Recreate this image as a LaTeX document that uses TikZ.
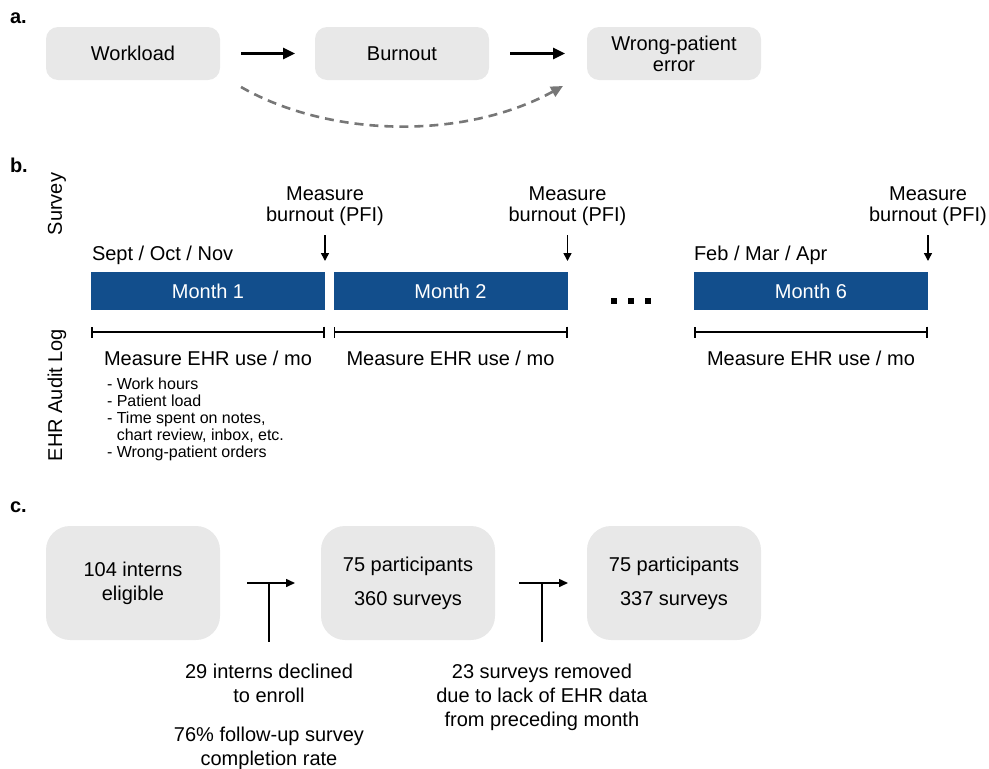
\documentclass[tikz,border=0pt]{standalone}
\usepackage{fontspec}
\setmainfont{Liberation Sans}
\usetikzlibrary{arrows.meta,calc}
\definecolor{boxgray}{HTML}{E8E8E8}
\definecolor{monthblue}{HTML}{124E8C}
\definecolor{dashgray}{HTML}{777777}
\begin{document}
\begin{tikzpicture}[x=1pt,y=-1pt,
  every node/.style={inner sep=0pt, outer sep=0pt},
  panellbl/.style={font=\fontsize{20}{24}\selectfont\bfseries, anchor=base west},
  abox/.style={rectangle, rounded corners=12pt, fill=boxgray, minimum width=174pt, minimum height=53pt,
     font=\fontsize{20}{21}\selectfont, align=center},
  cbox/.style={rectangle, rounded corners=24pt, fill=boxgray, minimum width=174pt, minimum height=114pt,
     align=center},
  monthbar/.style={rectangle, fill=monthblue, minimum width=234pt, minimum height=38pt,
     text=white, font=\fontsize{20}{22}\selectfont},
  txt/.style={font=\fontsize{20}{21}\selectfont, align=center},
  sidelbl/.style={font=\fontsize{20}{22}\selectfont, rotate=90},
  bigarrow/.style={line width=2.6pt, -{Triangle[length=12pt,width=11pt]}},
  dasharrow/.style={line width=2.6pt, dashgray, dash pattern=on 9pt off 6pt, -{Triangle[length=12pt,width=11pt]}},
  downarrow/.style={line width=1.5pt, -{Triangle[length=8pt,width=8pt]}},
  rangebar/.style={line width=1.6pt, {Bar[width=11pt]}-{Bar[width=11pt]}},
  tarrow/.style={line width=1.5pt, -{Triangle[length=9pt,width=8pt]}},
  tline/.style={line width=1.5pt}
]
\useasboundingbox (0,0) rectangle (989,769);

% ---------------- panel a
\node[panellbl] (la) at (10,23) {a.};
\node[abox] (w) at (133,53.5) {Workload};
\node[abox] (b) at (402,53.5) {Burnout};
\node[abox] (e) at (674,53.5) {Wrong-patient\\error};
\draw[bigarrow, shorten <=21pt, shorten >=20pt] (w) -- (b);
\draw[bigarrow, shorten <=21pt, shorten >=22pt] (b) -- (e);
\coordinate (ds) at ([xshift=21pt,yshift=-7pt]w.south east);
\coordinate (de) at ([xshift=-24pt,yshift=-6pt]e.south west);
\draw[dasharrow] (ds) .. controls (330,138) and (465,140) .. (de);

% ---------------- panel b
\node[panellbl] (lb) at (10,172) {b.};
\node[sidelbl] (sv) at (57,204) {Survey};
\node[sidelbl] (ehr) at (57,395) {EHR Audit Log};

\node[monthbar] (m1) at (208,291) {Month 1};
\node[monthbar] (m2) at (450.5,291) {Month 2};
\node[monthbar] (m6) at (811,291) {Month 6};

\node[txt, anchor=base west] (sep) at (92,260) {Sept / Oct / Nov};
\node[txt, anchor=base west] (feb) at (694,260) {Feb / Mar / Apr};

\node[txt] (p1) at (m1.north east |- 0,206) {Measure\\burnout (PFI)};
\node[txt] (p2) at (m2.north east |- 0,206) {Measure\\burnout (PFI)};
\node[txt] (p6) at (m6.north east |- 0,206) {Measure\\burnout (PFI)};
\draw[downarrow, shorten <=10pt, shorten >=11pt] (p1.south) -- (m1.north east);
\draw[downarrow, shorten <=10pt, shorten >=11pt] (p2.south) -- (m2.north east);
\draw[downarrow, shorten <=10pt, shorten >=11pt] (p6.south) -- (m6.north east);

\fill (611,298) rectangle ++(6,6);
\fill (628,298) rectangle ++(6,6);
\fill (645,298) rectangle ++(6,6);

\draw[rangebar] ([yshift=-22pt]m1.south west) -- ([yshift=-22pt]m1.south east);
\draw[rangebar] ([yshift=-22pt]m2.south west) -- ([yshift=-22pt]m2.south east);
\draw[rangebar] ([yshift=-22pt]m6.south west) -- ([yshift=-22pt]m6.south east);

\node[txt, anchor=base] (u1) at (m1.south |- 0,365) {Measure EHR use / mo};
\node[txt, anchor=base] (u2) at (m2.south |- 0,365) {Measure EHR use / mo};
\node[txt, anchor=base] (u6) at (m6.south |- 0,365) {Measure EHR use / mo};

\node[font=\fontsize{16}{17}\selectfont, align=left, anchor=north west] (list) at (107,377.5)
  {- Work hours\\- Patient load\\- Time spent on notes,\\\phantom{- }chart review, inbox, etc.\\- Wrong-patient orders};

% ---------------- panel c
\node[panellbl] (lc) at (10,512) {c.};
\node[cbox, font=\fontsize{20}{24}\selectfont] (c1) at (133,583) {104 interns\\eligible};
\node[cbox, font=\fontsize{20}{34}\selectfont] (c2) at (408,583) {75 participants\\360 surveys};
\node[cbox, font=\fontsize{20}{34}\selectfont] (c3) at (674,583) {75 participants\\337 surveys};

\draw[tarrow, shorten <=27pt, shorten >=26pt] (c1) -- (c2);
\draw[tarrow, shorten <=24pt, shorten >=19pt] (c2) -- (c3);
\coordinate (t1) at ($(c1.east)!0.485!(c2.west)$);
\coordinate (t2) at ($(c2.east)!0.51!(c3.west)$);

\node[font=\fontsize{20}{24}\selectfont, align=center, anchor=north] (d1) at (t1 |- 0,664)
  {29 interns declined\\to enroll\\[15pt]76\% follow-up survey\\completion rate};
\node[font=\fontsize{20}{24}\selectfont, align=center, anchor=north] (d2) at (t2 |- 0,664)
  {23 surveys removed\\due to lack of EHR data\\from preceding month};
\draw[tline] (t1) -- ([yshift=22pt]d1.north);
\draw[tline] (t2) -- ([yshift=22pt]d2.north);
\end{tikzpicture}
\end{document}
